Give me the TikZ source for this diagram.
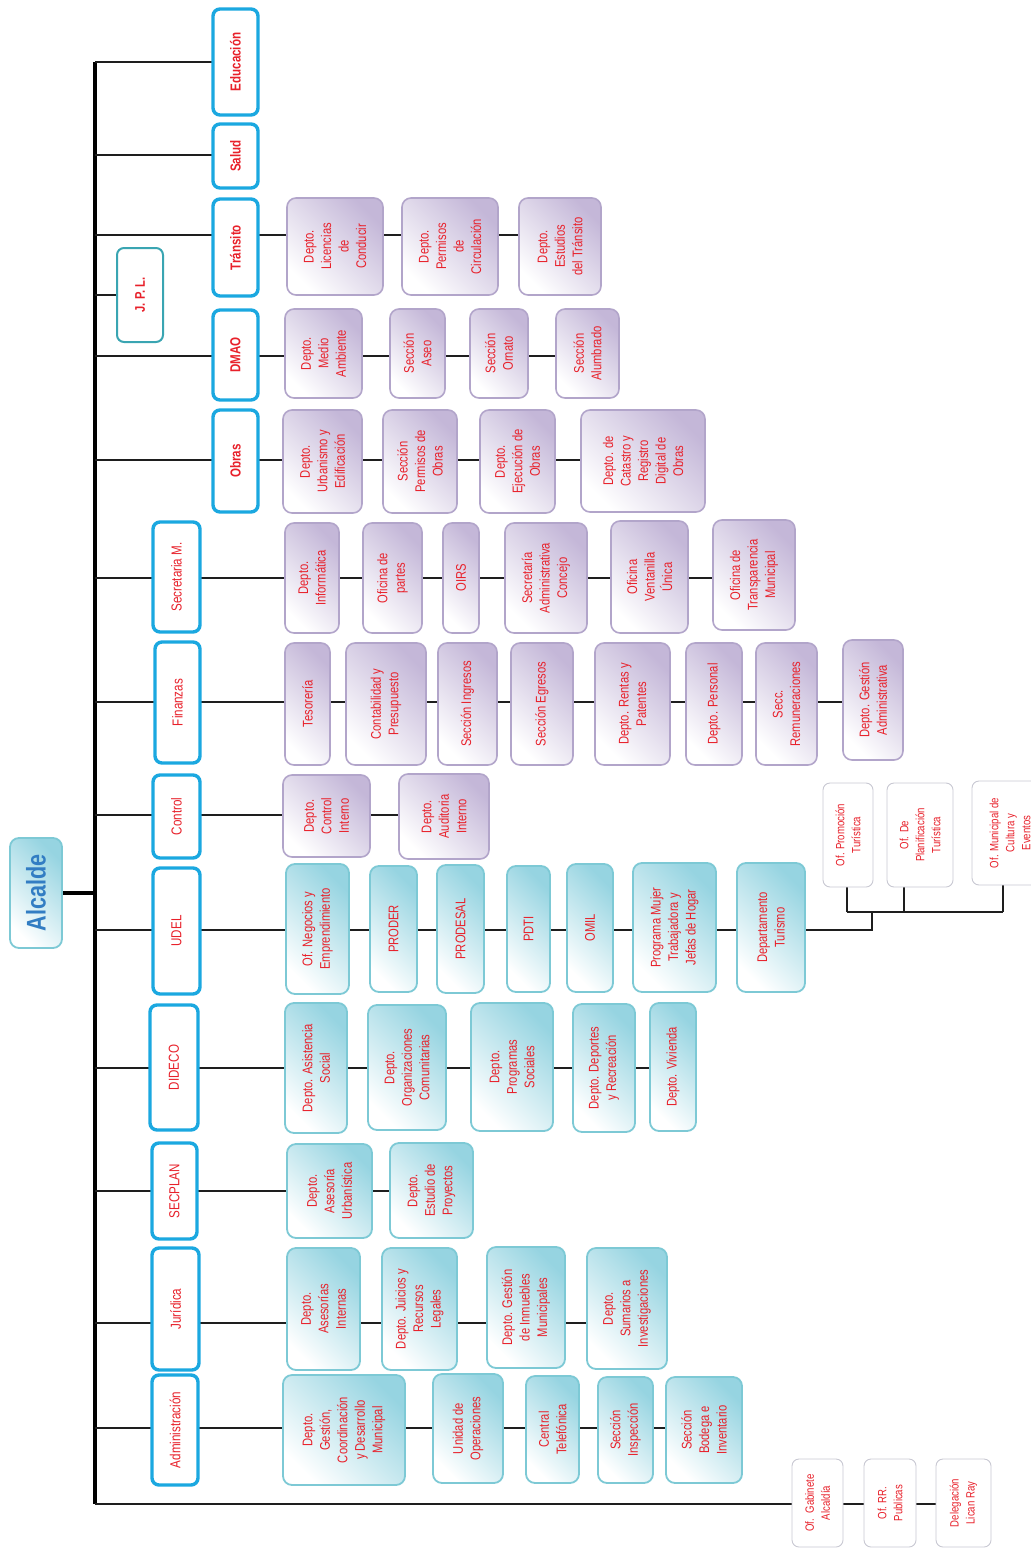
\documentclass[tikz,border=0pt]{standalone}
\usepackage{fontspec}
\newfontfamily\nf{Liberation Sans}[FakeStretch=0.8]
\usetikzlibrary{backgrounds}
\definecolor{tred}{RGB}{232,32,42}
\definecolor{mainc}{RGB}{27,168,224}
\definecolor{jplc}{RGB}{58,165,178}
\definecolor{pbord}{RGB}{178,165,202}
\definecolor{pdark}{RGB}{196,183,216}
\definecolor{cbord}{RGB}{125,201,213}
\definecolor{cdark}{RGB}{150,212,225}
\definecolor{wbord}{RGB}{200,200,210}
\definecolor{lnc}{RGB}{30,30,30}
\definecolor{alc}{RGB}{50,125,195}
\newcommand\bx[7]{\node[#2, rotate=90, minimum width={(#6-#4)*1pt}, minimum height={(#5-#3)*1pt}] (#1) at ({(#3+#5)/2},{(#4+#6)/2}) {#7};}
\begin{document}
\begin{tikzpicture}[x=1pt,y=-1pt,
  base/.style={rounded corners=9pt, inner sep=1pt, align=center, text=tred, font=\nf\fontsize{14}{17.5}\selectfont},
  pbox/.style={base, draw=pbord, line width=1.6pt, left color=white, right color=pdark, shading angle=135},
  cbox/.style={base, draw=cbord, line width=1.8pt, left color=white, right color=cdark, shading angle=135},
  wbox/.style={base, draw=wbord, line width=0.9pt, fill=white, rounded corners=7pt, font=\nf\fontsize{12}{16}\selectfont},
  mainb/.style={base, draw=mainc, line width=3.4pt, fill=white, rounded corners=7pt, font=\nf\fontsize{14.5}{17}\selectfont\bfseries},
  mainn/.style={base, draw=mainc, line width=3.4pt, fill=white, rounded corners=7pt, font=\nf\fontsize{14.5}{17}\selectfont},
  jplb/.style={base, draw=jplc, line width=2pt, fill=white, rounded corners=7pt, font=\nf\fontsize{14}{17}\selectfont\bfseries},
  alcb/.style={base, draw=cbord, line width=1.8pt, left color=white, right color=cdark, shading angle=135, text=alc, font=\nf\fontsize{27}{30}\selectfont\bfseries},
  br/.style={draw=lnc, line width=1.5pt},
  sr/.style={draw=lnc, line width=2pt},
  brk/.style={draw=lnc, line width=2.3pt},
  spine/.style={draw=black, line width=4pt}
]
\useasboundingbox (0,0) rectangle (1030,1549);
% main level
\bx{edu}{mainb}{213}{9}{258}{115}{Educación}
\bx{sal}{mainb}{213}{124}{258}{188}{Salud}
\bx{tra}{mainb}{213}{199}{258}{296}{Tránsito}
\bx{jpl}{jplb}{117}{248}{163}{342}{J. P. L.}
\bx{dma}{mainb}{213}{310}{258}{400}{DMAO}
\bx{obr}{mainb}{213}{410}{258}{512}{Obras}
\bx{sec}{mainn}{153}{522}{200}{632}{Secretaria M.}
\bx{fin}{mainn}{155}{642}{200}{763}{Finanzas}
\bx{con}{mainn}{153}{775}{200}{858}{Control}
\bx{ude}{mainn}{153}{868}{200}{994}{UDEL}
\bx{did}{mainn}{150}{1005}{198}{1130}{DIDECO}
\bx{spl}{mainn}{152}{1143}{197}{1239}{SECPLAN}
\bx{jur}{mainn}{152}{1248}{199}{1370}{Jurídica}
\bx{adm}{mainn}{152}{1375}{198}{1485}{Administración}
\bx{alc}{alcb}{10}{838}{62}{948}{Alcalde}
% Transito
\bx{lic}{pbox}{287}{198}{383}{295}{Depto.\\Licencias\\de\\Conducir}
\bx{pci}{pbox}{402}{198}{498}{295}{Depto.\\Permisos\\de\\Circulación}
\bx{etr}{pbox}{519}{198}{601}{295}{Depto.\\Estudios\\del Tránsito}
% DMAO
\bx{mam}{pbox}{285}{309}{362}{398}{Depto.\\Medio\\Ambiente}
\bx{ase}{pbox}{390}{309}{445}{398}{Sección\\Aseo}
\bx{orn}{pbox}{470}{309}{528}{398}{Sección\\Ornato}
\bx{alu}{pbox}{556}{309}{619}{398}{Sección\\Alumbrado}
% Obras
\bx{urb}{pbox}{283}{410}{362}{513}{Depto.\\Urbanismo y\\Edificación}
\bx{pob}{pbox}{383}{410}{457}{513}{Sección\\Permisos de\\Obras}
\bx{eje}{pbox}{480}{410}{555}{513}{Depto.\\Ejecución de\\Obras}
\bx{cat}{pbox}{581}{410}{705}{512}{Depto. de\\Catastro y\\Registro\\Digital de\\Obras}
% Secretaria
\bx{inf}{pbox}{285}{523}{339}{633}{Depto.\\Informática}
\bx{par}{pbox}{363}{523}{422}{633}{Oficina de\\partes}
\bx{oir}{pbox}{443}{523}{479}{633}{OIRS}
\bx{sac}{pbox}{505}{523}{587}{633}{Secretaría\\Administrativa\\Concejo}
\bx{ven}{pbox}{611}{521}{688}{633}{Oficina\\Ventanilla\\Única}
\bx{otm}{pbox}{713}{520}{795}{630}{Oficina de\\Transparencia\\Municipal}
% Finanzas
\bx{tes}{pbox}{285}{643}{330}{765}{Tesorería}
\bx{cpr}{pbox}{346}{643}{426}{765}{Contabilidad y\\Presupuesto}
\bx{ing}{pbox}{438}{643}{497}{765}{Sección Ingresos}
\bx{egr}{pbox}{511}{643}{573}{765}{Sección Egresos}
\bx{ren}{pbox}{595}{643}{670}{765}{Depto. Rentas y\\Patentes}
\bx{per}{pbox}{686}{643}{742}{765}{Depto. Personal}
\bx{rem}{pbox}{756}{643}{817}{765}{Secc.\\Remuneraciones}
\bx{gad}{pbox}{843}{640}{903}{760}{Depto. Gestión\\Administrativa}
% Control
\bx{cin}{pbox}{283}{775}{370}{857}{Depto.\\Control\\Interno}
\bx{aud}{pbox}{399}{774}{489}{859}{Depto.\\Auditoria\\Interno}
% UDEL
\bx{neg}{cbox}{286}{864}{349}{994}{Of. Negocios y\\Emprendimiento}
\bx{pro}{cbox}{370}{866}{417}{992}{PRODER}
\bx{psl}{cbox}{437}{865}{484}{993}{PRODESAL}
\bx{pdt}{cbox}{507}{866}{550}{992}{PDTI}
\bx{omi}{cbox}{567}{864}{613}{992}{OMIL}
\bx{pmu}{cbox}{633}{863}{716}{992}{Programa Mujer\\Trabajadora y\\Jefas de Hogar}
\bx{tur}{cbox}{737}{863}{805}{992}{Departamento\\Turismo}
\bx{prom}{wbox}{823}{783}{873}{887}{Of. Promoción\\Turística}
\bx{plan}{wbox}{887}{783}{953}{887}{Of. De\\Planificación\\Turística}
\bx{cul}{wbox}{972}{781}{1048}{885}{Of. Municipal de\\Cultura y\\Eventos}
% DIDECO
\bx{asi}{cbox}{285}{1003}{347}{1133}{Depto. Asistencia\\Social}
\bx{org}{cbox}{368}{1005}{446}{1130}{Depto.\\Organizaciones\\Comunitarias}
\bx{prs}{cbox}{471}{1003}{553}{1131}{Depto.\\Programas\\Sociales}
\bx{dep}{cbox}{573}{1004}{635}{1132}{Depto. Deportes\\y Recreación}
\bx{viv}{cbox}{650}{1003}{696}{1131}{Depto. Vivienda}
% SECPLAN
\bx{aur}{cbox}{287}{1144}{372}{1238}{Depto.\\Asesoría\\Urbanística}
\bx{epr}{cbox}{390}{1143}{473}{1238}{Depto.\\Estudio de\\Proyectos}
% Juridica
\bx{ain}{cbox}{287}{1248}{360}{1370}{Depto.\\Asesorías\\Internas}
\bx{jrl}{cbox}{382}{1248}{457}{1370}{Depto. Juicios y\\Recursos\\Legales}
\bx{gim}{cbox}{487}{1247}{565}{1368}{Depto. Gestión\\de Inmuebles\\Municipales}
\bx{sin}{cbox}{587}{1248}{667}{1369}{Depto.\\Sumarios a\\Investigaciones}
% Administracion
\bx{gcd}{cbox}{283}{1375}{405}{1485}{Depto.\\Gestión,\\Coordinación\\y Desarrollo\\Municipal}
\bx{uop}{cbox}{433}{1374}{503}{1483}{Unidad de\\Operaciones}
\bx{cte}{cbox}{526}{1376}{579}{1483}{Central\\Telefónica}
\bx{sip}{cbox}{598}{1377}{653}{1483}{Sección\\Inspección}
\bx{sbi}{cbox}{666}{1377}{742}{1483}{Sección\\Bodega e\\Inventario}
% bottom
\bx{gab}{wbox}{792}{1459}{843}{1547}{Of.~~Gabinete\\Alcaldía}
\bx{rrp}{wbox}{864}{1459}{916}{1547}{Of. RR.\\Publicas}
\bx{del}{wbox}{936}{1459}{991}{1547}{Delegación\\Lican Ray}
% connectors
\begin{scope}[on background layer]
\coordinate (redu) at (95,62);
\coordinate (rsal) at (95,155);
\coordinate (rtra) at (95,235);
\coordinate (rjpl) at (95,295);
\coordinate (rdma) at (95,356);
\coordinate (robr) at (95,460);
\coordinate (rsec) at (95,578);
\coordinate (rfin) at (95,702);
\coordinate (rcon) at (95,815);
\coordinate (rude) at (95,930);
\coordinate (rdid) at (95,1068);
\coordinate (rspl) at (95,1191);
\coordinate (rjur) at (95,1323);
\coordinate (radm) at (95,1428);
\coordinate (rbot) at (95,1504);
\draw[spine] (redu) -- (rbot);
\draw[spine] (alc.center) -- (alc.center -| redu);
\draw[br] (redu) -- (redu -| edu.center);
\draw[br] (rsal) -- (rsal -| sal.center);
\draw[br] (rtra) -- (rtra -| tra.center);
\draw[br] (rjpl) -- (rjpl -| jpl.center);
\draw[br] (rdma) -- (rdma -| dma.center);
\draw[br] (robr) -- (robr -| obr.center);
\draw[br] (rsec) -- (rsec -| sec.center);
\draw[br] (rfin) -- (rfin -| fin.center);
\draw[br] (rcon) -- (rcon -| con.center);
\draw[br] (rude) -- (rude -| ude.center);
\draw[br] (rdid) -- (rdid -| did.center);
\draw[br] (rspl) -- (rspl -| spl.center);
\draw[br] (rjur) -- (rjur -| jur.center);
\draw[br] (radm) -- (radm -| adm.center);
\draw[br] (rbot) -- (rbot -| gab.center);
\draw[sr] (rtra -| tra.center) -- (rtra -| etr.center);
\draw[sr] (rdma -| dma.center) -- (rdma -| alu.center);
\draw[sr] (robr -| obr.center) -- (robr -| cat.center);
\draw[sr] (rsec -| sec.center) -- (rsec -| otm.center);
\draw[sr] (rfin -| fin.center) -- (rfin -| gad.center);
\draw[sr] (rcon -| con.center) -- (rcon -| aud.center);
\draw[sr] (rude -| ude.center) -- (rude -| tur.center);
\draw[sr] (rdid -| did.center) -- (rdid -| viv.center);
\draw[sr] (rspl -| spl.center) -- (rspl -| epr.center);
\draw[sr] (rjur -| jur.center) -- (rjur -| sin.center);
\draw[sr] (radm -| adm.center) -- (radm -| sbi.center);
\draw[sr] (rbot -| gab.center) -- (rbot -| del.center);
% turismo bracket
\coordinate (tj) at (872,912);
\coordinate (tb1) at (847,912);
\coordinate (tb2) at (904,912);
\coordinate (tb3) at (1003,912);
\draw[brk] (rude -| tur.center) -| (tj);
\draw[brk] (tb1) -- (tb3);
\draw[brk] (tb1) -- (tb1 |- prom.center);
\draw[brk] (tb2) -- (tb2 |- plan.center);
\draw[brk] (tb3) -- (tb3 |- cul.center);
\end{scope}
\end{tikzpicture}
\end{document}
